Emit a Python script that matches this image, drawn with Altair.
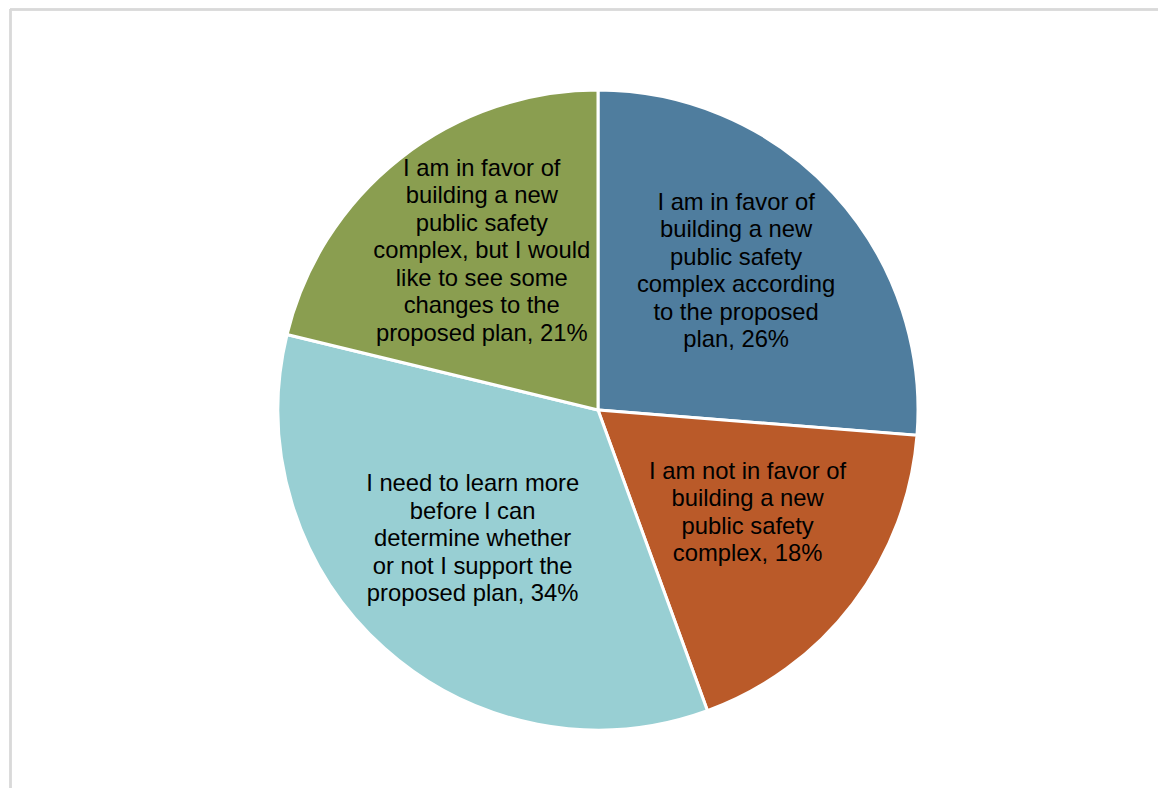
import altair as alt
import pandas as pd

categories = [
    "In favor, as proposed",
    "Not in favor",
    "Need to learn more",
    "In favor, with changes",
]
values = [26, 18, 34, 21]
label_texts = [
    "I am in favor of|building a new|public safety|complex according|to the proposed|plan",
    "I am not in favor of|building a new|public safety|complex",
    "I need to learn more|before I can|determine whether|or not I support the|proposed plan",
    "I am in favor of|building a new|public safety|complex, but I would|like to see some|changes to the|proposed plan",
]
colors = ["#4F7D9E", "#BA5A29", "#98CFD3", "#8A9E50"]

df = pd.DataFrame({
    "category": categories,
    "value": values,
    "idx": list(range(len(categories))),
    "label": [f"{t}, {v}%" for t, v in zip(label_texts, values)],
})

W, H = 1150, 780
CX, CY = 590, 402
LH = 27.5

base = alt.Chart(df).encode(
    theta=alt.Theta("value:Q", stack=True),
    order=alt.Order("idx:Q"),
    x=alt.value(CX),
    y=alt.value(CY),
)

arcs = base.mark_arc(outerRadius=320, stroke="white", strokeWidth=3).encode(
    color=alt.Color(
        "category:N",
        scale=alt.Scale(domain=categories, range=colors),
        legend=None,
    )
)

labels = base.transform_calculate(
    lines="split(datum.label, '|')"
).mark_text(
    radius=188,
    font="Liberation Sans",
    fontSize=23.8,
    lineHeight=LH,
    align="center",
    baseline="middle",
    color="#000000",
    dy=alt.ExprRef(expr=f"-(length(datum.lines) - 1) * {LH} / 2 - 11"),
).encode(text="lines:N")

frame_top = alt.Chart(df).mark_rule(color="#D9D9D9", strokeWidth=2).encode(
    x=alt.value(2), x2=alt.value(W), y=alt.value(1.5)
)
frame_left = alt.Chart(df).mark_rule(color="#D9D9D9", strokeWidth=2).encode(
    x=alt.value(2.5), y=alt.value(1), y2=alt.value(H)
)

chart = (
    alt.layer(arcs, labels, frame_top, frame_left)
    .properties(
        width=W,
        height=H,
        autosize=alt.AutoSizeParams(type="none"),
        padding=0,
        background="white",
    )
    .configure_view(stroke=None)
)

chart.save("out.html", embed_options={"renderer": "svg", "actions": False})
